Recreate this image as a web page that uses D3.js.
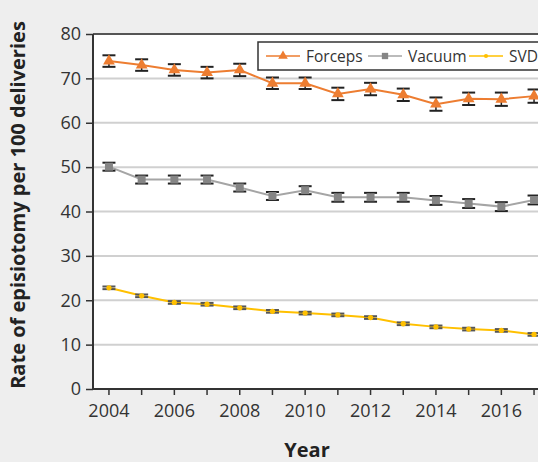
<!DOCTYPE html>
<html>
<head>
<meta charset="utf-8">
<script src="https://cdn.jsdelivr.net/npm/d3@7"></script>
<style>
  html, body { margin: 0; padding: 0; background: #eeeeee; overflow: hidden; }
  svg { display: block; font-family: "Open Sans", "Noto Sans", sans-serif; }
</style>
</head>
<body>
<div id="graph"></div>
<script>
'use strict';

// chart data
const years = [2004, 2005, 2006, 2007, 2008, 2009, 2010, 2011, 2012, 2013, 2014, 2015, 2016, 2017];
const forceps = [73.9, 73.0, 71.9, 71.3, 71.9, 68.9, 68.9, 66.5, 67.6, 66.3, 64.2, 65.4, 65.3, 66.0];
const forcepsErr = [1.3, 1.3, 1.3, 1.3, 1.4, 1.3, 1.3, 1.4, 1.4, 1.4, 1.5, 1.4, 1.5, 1.5];
const vacuum = [50.1, 47.2, 47.2, 47.2, 45.4, 43.5, 44.8, 43.2, 43.2, 43.2, 42.5, 41.8, 41.1, 42.6];
const vacuumErr = [0.9, 0.9, 0.9, 0.9, 0.9, 0.9, 0.9, 1.0, 1.0, 1.0, 1.0, 1.0, 1.0, 1.0];
const svd = [22.8, 21.0, 19.5, 19.1, 18.3, 17.5, 17.1, 16.7, 16.1, 14.7, 14.0, 13.5, 13.2, 12.3];
const svdErr = [0.3, 0.3, 0.3, 0.3, 0.3, 0.3, 0.3, 0.3, 0.3, 0.3, 0.3, 0.3, 0.3, 0.3];
const yTicks = [0, 10, 20, 30, 40, 50, 60, 70, 80];
const xTickLabels = [2004, 2006, 2008, 2010, 2012, 2014, 2016];
const seriesNames = ['Forceps', 'Vacuum', 'SVD'];

(function() {

  let svgContainer = "";
  const colors = {
    "Forceps": "#ED7D31",
    "Vacuum": "#A5A5A5",
    "SVD": "#FFC000"
  };
  const markerColors = {
    "Forceps": "#ED7D31",
    "Vacuum": "#858585",
    "SVD": "#FFC000"
  };

  window.onload = function() {
    svgContainer = d3.select('#graph')
      .append('svg')
      .attr('width', 538)
      .attr('height', 462);

    let series = [
      { name: 'Forceps', values: forceps, err: forcepsErr },
      { name: 'Vacuum', values: vacuum, err: vacuumErr },
      { name: 'SVD', values: svd, err: svdErr }
    ];

    let map = drawAxes();
    plotData(map, series);
    drawLegend();
    makeLabels();
  }

  // axes, gridlines, plot background
  function drawAxes() {
    let xScale = d3.scaleBand()
      .domain(years)
      .range([92.6, 92.6 + 14 * 32.7]);

    let yScale = d3.scaleLinear()
      .domain([0, 80])
      .range([389, 34]);

    // white plot area
    svgContainer.append('rect')
      .attr('x', 93)
      .attr('y', 34)
      .attr('width', 480)
      .attr('height', 355)
      .style('fill', 'white');

    // gridlines
    svgContainer.selectAll('.grid')
      .data(yTicks.filter(d => d > 0 && d < 80))
      .enter()
      .append('line')
        .attr('x1', 93)
        .attr('x2', 560)
        .attr('y1', d => yScale(d))
        .attr('y2', d => yScale(d))
        .style('stroke', '#d0d0d0')
        .style('stroke-width', 2);

    // top border of plot
    svgContainer.append('line')
      .attr('x1', 93).attr('x2', 560)
      .attr('y1', yScale(80)).attr('y2', yScale(80))
      .style('stroke', '#555')
      .style('stroke-width', 2);

    // y axis
    let yAxis = d3.axisLeft(yScale)
      .tickValues(yTicks)
      .tickSize(7)
      .tickPadding(5);
    let gy = svgContainer.append('g')
      .attr('transform', 'translate(93, 0)')
      .call(yAxis);
    gy.select('.domain').remove();
    gy.append('line')
      .attr('x1', 0).attr('x2', 0)
      .attr('y1', yScale(80)).attr('y2', yScale(0))
      .style('stroke', '#333')
      .style('stroke-width', 2);

    // x axis
    let xAxis = d3.axisBottom(xScale)
      .tickSize(6)
      .tickPadding(9)
      .tickFormat(d => xTickLabels.includes(d) ? d : '');
    let gx = svgContainer.append('g')
      .attr('transform', 'translate(0, 389)')
      .call(xAxis);
    gx.select('.domain').remove();
    gx.append('line')
      .attr('x1', 92).attr('x2', 560)
      .attr('y1', 0).attr('y2', 0)
      .style('stroke', '#333')
      .style('stroke-width', 2);

    [gx, gy].forEach(g => {
      g.selectAll('.tick line').style('stroke', '#333').style('stroke-width', 1.5);
      g.selectAll('.tick text')
        .style('font-size', '18px')
        .style('fill', '#333')
        .style('font-family', '"Open Sans", sans-serif');
    });

    return { x: xScale, y: yScale };
  }

  // lines, error bars and markers
  function plotData(map, series) {
    let xc = d => map.x(d) + map.x.bandwidth() / 2;

    series.forEach(s => {
      let rows = years.map((yr, i) => ({ year: yr, value: s.values[i], err: s.err[i] }));

      let line = d3.line()
        .x(d => xc(d.year))
        .y(d => map.y(d.value));

      svgContainer.append('path')
        .datum(rows)
        .attr('d', line)
        .style('fill', 'none')
        .style('stroke', colors[s.name])
        .style('stroke-width', 2);

      // error bars
      let errColor = s.name === 'SVD' ? '#555' : '#222';
      let g = svgContainer.append('g');
      g.selectAll('.err')
        .data(rows)
        .enter()
        .append('line')
          .attr('x1', d => xc(d.year))
          .attr('x2', d => xc(d.year))
          .attr('y1', d => map.y(d.value - d.err))
          .attr('y2', d => map.y(d.value + d.err))
          .style('stroke', errColor)
          .style('stroke-width', 1.5);
      [1, -1].forEach(sign => {
        g.selectAll('.cap')
          .data(rows)
          .enter()
          .append('line')
            .attr('x1', d => xc(d.year) - 6.5)
            .attr('x2', d => xc(d.year) + 6.5)
            .attr('y1', d => map.y(d.value + sign * d.err))
            .attr('y2', d => map.y(d.value + sign * d.err))
            .style('stroke', errColor)
            .style('stroke-width', 2);
      });

      // markers
      let sym = s.name === 'Forceps' ? d3.symbolTriangle
        : s.name === 'Vacuum' ? d3.symbolSquare : d3.symbolCircle;
      let size = s.name === 'Forceps' ? 60 : s.name === 'Vacuum' ? 64 : 22;
      svgContainer.selectAll('.mk')
        .data(rows)
        .enter()
        .append('path')
          .attr('d', d3.symbol().type(sym).size(size))
          .attr('transform', d => 'translate(' + xc(d.year) + ',' + map.y(d.value) + ')')
          .style('fill', markerColors[s.name]);
    });
  }

  // legend box at top right
  function drawLegend() {
    svgContainer.append('rect')
      .attr('x', 258)
      .attr('y', 42)
      .attr('width', 320)
      .attr('height', 28)
      .style('fill', 'white')
      .style('stroke', '#333')
      .style('stroke-width', 1.5);

    let lineX = [266, 368, 469];
    let g = svgContainer.selectAll('.legendItem')
      .data(seriesNames)
      .enter()
      .append('g')
        .attr('transform', (d, i) => 'translate(' + lineX[i] + ', 56)');

    g.append('line')
      .attr('x1', 0).attr('x2', 34)
      .attr('y1', 0).attr('y2', 0)
      .style('stroke', d => colors[d])
      .style('stroke-width', 1.5);

    g.append('path')
      .attr('d', d => d3.symbol()
        .type(d === 'Forceps' ? d3.symbolTriangle : d === 'Vacuum' ? d3.symbolSquare : d3.symbolCircle)
        .size(d === 'SVD' ? 14 : 40)())
      .attr('transform', 'translate(17, 0)')
      .style('fill', d => markerColors[d]);

    g.append('text')
      .attr('x', 40)
      .attr('y', 5.5)
      .text(d => d)
      .style('font-size', '15.5px')
      .style('fill', '#333');
  }

  // axis titles
  function makeLabels() {
    svgContainer.append('text')
      .attr('transform', 'translate(25, 205)rotate(-90)')
      .attr('text-anchor', 'middle')
      .style('font-size', '20px')
      .style('font-weight', 'bold')
      .style('fill', '#222')
      .text('Rate of episiotomy per 100 deliveries');

    svgContainer.append('text')
      .attr('x', 307)
      .attr('y', 457)
      .attr('text-anchor', 'middle')
      .style('font-size', '20px')
      .style('font-weight', 'bold')
      .style('fill', '#222')
      .text('Year');
  }

})();
</script>
</body>
</html>
